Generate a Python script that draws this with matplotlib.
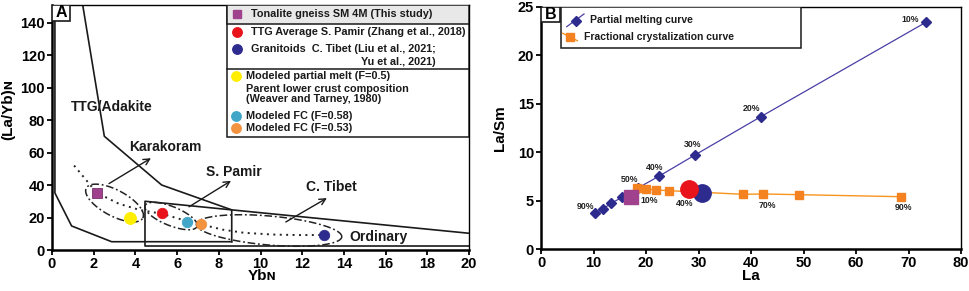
import numpy as np
import matplotlib
matplotlib.use("Agg")
import matplotlib.pyplot as plt
from matplotlib.patches import Rectangle

plt.rcParams['font.family'] = ['Liberation Sans', 'DejaVu Sans']

# ---------------- Panel A data ----------------
sample_names = ["Tonalite gneiss SM 4M (This study)",
                "TTG Average S. Pamir (Zhang et al., 2018)",
                "Granitoids  C. Tibet (Liu et al., 2021;",
                "Modeled partial melt (F=0.5)",
                "Modeled FC (F=0.58)",
                "Modeled FC (F=0.53)"]
sample_ybn = [2.14, 5.29, 13.05, 3.74, 6.49, 7.13]
sample_layb = [35.3, 22.95, 9.2, 19.9, 17.4, 16.0]
sample_colors = ['#A0418D', '#E8131B', '#2E2B8F', '#FFEE00', '#41A6C8', '#F3923F']
sample_markers = ['s', 'o', 'o', 'o', 'o', 'o']

# model trend (dotted)
trend_ybn = [1.06, 2.14, 3.2, 4.22, 5.28, 6.47, 7.13, 8.2, 9.2, 10.6, 11.8, 13.0]
trend_layb = [52.0, 35.3, 28.5, 24.6, 22.3, 17.8, 15.8, 12.5, 10.6, 9.5, 9.2, 9.2]

# field boundaries
ttg_low_x = [0.14, 0.14, 0.94, 2.86, 8.62]
ttg_low_y = [151, 35.1, 14.8, 5.1, 5.1]
ttg_up_x = [1.47, 2.51, 5.26, 8.62, 20.0]
ttg_up_y = [151, 70.0, 40.0, 24.7, 10.3]
box_x = [8.62, 8.62, 4.46, 4.46, 20.0]
box_y = [5.1, 24.7, 30.0, 2.46, 2.46]

# ---------------- Panel B data ----------------
pm_la = [10.38, 11.75, 13.3, 15.37, 18.4, 22.53, 29.33, 41.85, 73.3]
pm_lasm = [3.74, 4.15, 4.72, 5.34, 6.3, 7.55, 9.72, 13.66, 23.39]
pm_tags = ['90%', '50%', '40%', '30%', '20%', '10%']
pm_tag_la = [8.57, 16.95, 21.6, 28.9, 40.1, 70.3]
pm_tag_lasm = [4.46, 7.24, 8.45, 10.75, 14.5, 23.7]

fc_la = [18.34, 20.0, 21.9, 24.44, 38.4, 42.34, 49.1, 68.5]
fc_lasm = [6.29, 6.21, 6.11, 6.04, 5.67, 5.70, 5.63, 5.42]
fc_tags = ['10%', '40%', '70%', '90%']
fc_tag_la = [20.6, 27.3, 43.2, 69.1]
fc_tag_lasm = [5.0, 4.74, 4.49, 4.29]

b_pts_la = [17.1, 30.6, 28.25]
b_pts_lasm = [5.42, 5.83, 6.18]
b_pts_colors = ['#A0418D', '#2E2B8F', '#E8131B']
b_pts_markers = ['s', 'o', 'o']
b_pts_sizes = [10, 12.5, 12.5]

# ---------------- figure ----------------
W, H = 969, 291
fig = plt.figure(figsize=(W / 100, H / 100), dpi=100)


def frac(l, t, r, b):
    return [l / W, 1 - b / H, (r - l) / W, (b - t) / H]


axA = fig.add_axes(frac(52, 4.7, 469, 250))
axB = fig.add_axes(frac(541, 6.7, 961, 249.3))

tickfont = dict(fontsize=10.5, fontweight='bold')

for ax in (axA, axB):
    for s in ('left', 'bottom'):
        ax.spines[s].set_linewidth(1.8)
    for s in ('top', 'right'):
        ax.spines[s].set_linewidth(1.0)
    ax.tick_params(direction='out', length=3.5, width=1.3, pad=1.5)

# ---- Panel A ----
axA.set_xlim(0, 20)
axA.set_ylim(0, 151)
axA.set_xticks(np.arange(0, 21, 2))
axA.set_yticks(np.arange(0, 141, 20))
axA.set_xticklabels([str(v) for v in range(0, 21, 2)], **tickfont)
axA.set_yticklabels([str(v) for v in range(0, 141, 20)], **tickfont)

axA.plot(ttg_low_x, ttg_low_y, color='#1a1a1a', lw=1.2, zorder=2)
axA.plot(ttg_up_x, ttg_up_y, color='#1a1a1a', lw=1.2, zorder=2)
axA.plot(box_x, box_y, color='#1a1a1a', lw=1.2, zorder=2)

axA.plot(trend_ybn, trend_layb, color='#222222', lw=1.4, ls=(0, (1, 2.3)), zorder=3)


def ellipse_pts(ax, cx, cy, a_px, b_px, ang):
    c = ax.transData.transform((cx, cy))
    t = np.linspace(0, 2 * np.pi, 300)
    th = np.deg2rad(ang)
    x = a_px * np.cos(t)
    y = b_px * np.sin(t)
    xr = c[0] + x * np.cos(th) - y * np.sin(th)
    yr = c[1] + x * np.sin(th) + y * np.cos(th)
    return ax.transData.inverted().transform(np.column_stack([xr, yr]))


for (cx, cy, a, b, ang) in [(3.0, 28.9, 32, 13, -28), (5.71, 20.9, 28, 9.5, -22), (10.41, 12.0, 73, 14.5, -5)]:
    p = ellipse_pts(axA, cx, cy, a, b, ang)
    axA.plot(p[:, 0], p[:, 1], color='#222222', lw=1.1, ls=(0, (5, 1.8, 1.2, 1.8)), zorder=3)

for x, y, c, m in zip(sample_ybn, sample_layb, sample_colors, sample_markers):
    ms = 6.7 if m == 's' else (8.6 if c == '#FFEE00' else 7.5)
    axA.plot([x], [y], marker=m, ms=ms, color=c, mec=c if m != 's' else '#7a2f6b', mew=0.6, ls='none', zorder=5)

arrow_kw = dict(arrowstyle='->', color='#1a1a1a', lw=1.0, mutation_scale=11)
axA.annotate('', xy=(4.86, 57.4), xytext=(2.62, 40), arrowprops=arrow_kw)
axA.annotate('', xy=(8.7, 43.5), xytext=(6.46, 25.7), arrowprops=arrow_kw)
axA.annotate('', xy=(13.3, 32.8), xytext=(11.1, 16.4), arrowprops=arrow_kw)

lbl = dict(fontsize=10, fontweight='bold', ha='center', va='center', color='#1a1a1a')
axA.text(2.86, 88.2, 'TTG/Adakite', **lbl)
axA.text(5.42, 63.6, 'Karakoram', **lbl)
axA.text(8.73, 48.2, 'S. Pamir', **lbl)
axA.text(13.4, 39.0, 'C. Tibet', **lbl)
axA.text(15.64, 8.2, 'Ordinary', **lbl)

# panel label A
axA.add_patch(Rectangle((0, 0.9335), 0.0432, 0.0665, transform=axA.transAxes, fc='white', ec='#1a1a1a', lw=1.2, zorder=6))
axA.text(0.0216, 0.967, 'A', transform=axA.transAxes, fontsize=11.5, fontweight='bold', ha='center', va='center', zorder=7)

# legend A (manual)
lx0 = (227 - 52) / 417.0
axA.add_patch(Rectangle((lx0, 0.4624), 1 - lx0, 1 - 0.4624, transform=axA.transAxes, fc='white', ec='#1a1a1a', lw=1.1, zorder=6))
axA.add_patch(Rectangle((lx0, 0.922), 1 - lx0, 0.078, transform=axA.transAxes, fc='#E8E8E8', ec='#1a1a1a', lw=1.1, zorder=6))
axA.plot([lx0, 1], [0.7376, 0.7376], transform=axA.transAxes, color='#1a1a1a', lw=1.1, zorder=7)

legfont = dict(fontsize=7.8, fontweight='bold', va='center', ha='left', color='#1a1a1a', transform=axA.transAxes, zorder=8)
mx1 = (237 - 52) / 417.0
mx2 = (236 - 52) / 417.0
tx1 = (251 - 52) / 417.0
tx2 = (246 - 52) / 417.0
row_y = [0.9604, 0.8886, 0.8204, 0.7073, 0.5469, 0.4967]
for i, (nm, c, m) in enumerate(zip(sample_names, sample_colors, sample_markers)):
    mx = mx1 if i < 3 else mx2
    tx = tx1 if i < 3 else tx2
    axA.plot([mx], [row_y[i]], marker=m, ms=6.2 if m == 's' else 6.8, color=c, ls='none',
             transform=axA.transAxes, zorder=8, clip_on=False)
    axA.text(tx, row_y[i], nm, **legfont)
axA.text((361 - 52) / 417.0, 0.7645, 'Yu et al., 2021)', **legfont)
axA.text(tx2, 0.6559, 'Parent lower crust composition', **legfont)
axA.text(tx2, 0.6151, '(Weaver and Tarney, 1980)', **legfont)

fig.text(262.5 / W, 1 - 276 / H, 'Yb' + '\u0274', fontsize=11, fontweight='bold', ha='center', va='center',
         family=['Liberation Sans', 'DejaVu Sans'])
fig.text(8 / W, 1 - 110 / H, '(La/Yb)' + '\u0274', fontsize=11, fontweight='bold', ha='center', va='center',
         rotation=90, family=['Liberation Sans', 'DejaVu Sans'])

# ---- Panel B ----
axB.set_xlim(0, 80)
axB.set_ylim(0, 25)
axB.set_xticks(np.arange(0, 81, 10))
axB.set_yticks(np.arange(0, 26, 5))
axB.set_xticklabels([str(v) for v in range(0, 81, 10)], **tickfont)
axB.set_yticklabels([str(v) for v in range(0, 26, 5)], **tickfont)

axB.plot(pm_la, pm_lasm, color='#4A3FA5', lw=0.9, marker='D', ms=4.6, mfc='#2E2B8F', mec='#2E2B8F', zorder=3)
axB.plot(fc_la, fc_lasm, color='#F7941D', lw=1.0, marker='s', ms=6.0, mfc='#F58220', mec='#F58220', zorder=4)

for x, y, c, m, s in zip(b_pts_la, b_pts_lasm, b_pts_colors, b_pts_markers, b_pts_sizes):
    axB.plot([x], [y], marker=m, ms=s, color=c, ls='none', zorder=5)

tagfont = dict(fontsize=6.3, fontweight='bold', ha='center', va='center', color='#222222')
for t, x, y in zip(pm_tags, pm_tag_la, pm_tag_lasm):
    axB.text(x, y, t, **tagfont)
for t, x, y in zip(fc_tags, fc_tag_la, fc_tag_lasm):
    axB.text(x, y, t, **tagfont)

axB.add_patch(Rectangle((0, 0.938), 0.0452, 0.062, transform=axB.transAxes, fc='white', ec='#1a1a1a', lw=1.2, zorder=6))
axB.text(0.0226, 0.969, 'B', transform=axB.transAxes, fontsize=11.5, fontweight='bold', ha='center', va='center', zorder=7)

axB.add_patch(Rectangle((0.0476, 0.831), 0.619 - 0.0476, 1 - 0.831, transform=axB.transAxes, fc='white', ec='#1a1a1a', lw=1.1, zorder=6))
axB.plot([0.0612, 0.1024], [0.9176, 0.970], transform=axB.transAxes, color='#4A3FA5', lw=0.9, zorder=7)
axB.plot([0.0833], [0.9423], transform=axB.transAxes, marker='D', ms=4.6, color='#2E2B8F', zorder=8)
axB.plot([0.0517, 0.0864], [0.8904, 0.860], transform=axB.transAxes, color='#F7941D', lw=1.0, zorder=7)
axB.plot([0.069], [0.874], transform=axB.transAxes, marker='s', ms=6.0, color='#F58220', zorder=8)
bleg = dict(fontsize=7.5, fontweight='bold', va='center', ha='left', color='#1a1a1a', transform=axB.transAxes, zorder=8)
axB.text(0.1167, 0.945, 'Partial melting curve', **bleg)
axB.text(0.1031, 0.874, 'Fractional crystalization curve', **bleg)

fig.text(751 / W, 1 - 276 / H, 'La', fontsize=11, fontweight='bold', ha='center', va='center')
fig.text(500 / W, 1 - 128 / H, 'La/Sm', fontsize=11, fontweight='bold', ha='center', va='center', rotation=90)

fig.savefig('out.png', dpi=100)
